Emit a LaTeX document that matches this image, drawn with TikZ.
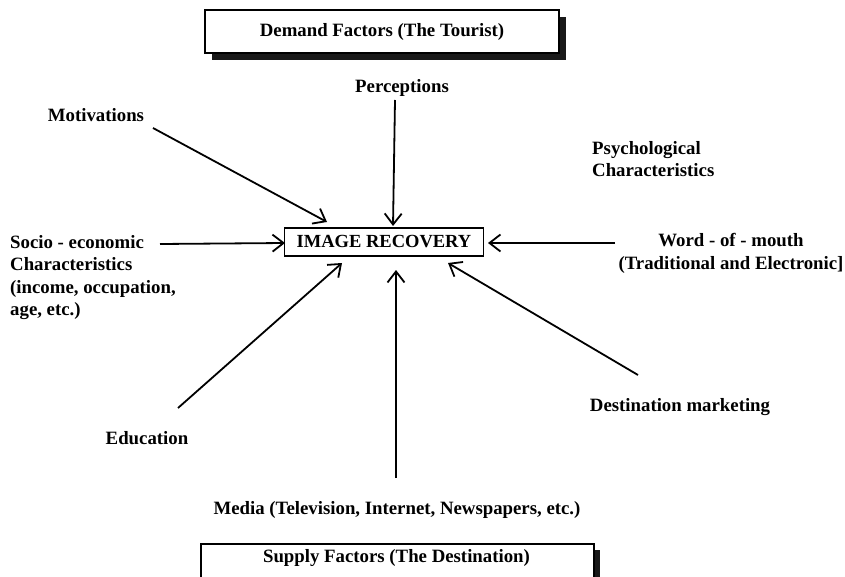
\documentclass[tikz,border=0pt]{standalone}
\usepackage{fontspec}
\setmainfont{Liberation Serif}
\usetikzlibrary{arrows.meta}
\begin{document}
\begin{tikzpicture}[x=1pt,y=-1pt,
  lbl/.style={font=\fontsize{18.8}{22.5}\selectfont\bfseries, inner sep=0pt},
  lnk/.style={line width=1.8pt, -{Straight Barb[length=11pt,width=17pt,line width=1.8pt]}},
  frame/.style={draw, line width=1.8pt, fill=white}]
\useasboundingbox (0,0) rectangle (845,577);

% header boxes with drop shadows
\fill[black!90] (212,17) rectangle (566,60);
\node[frame, minimum width=354pt, minimum height=43pt, inner sep=0pt] (demand) at (382,31.5) {};
\node[lbl] at (demand) {Demand Factors (The Tourist)};

\fill[black!90] (207,550) rectangle (600,600);
\node[frame, minimum width=393pt, minimum height=50pt, inner sep=0pt, anchor=north west] (supply) at (200,543) {};
\node[lbl] at (396.5,558) {Supply Factors (The Destination)};

% central box
\node[frame, lbl, font=\fontsize{18.5}{22}\selectfont\bfseries, minimum width=199pt, minimum height=28pt] (rec) at (384,242) {IMAGE RECOVERY};

% factor labels
\node[lbl] (perc) at (402,88) {Perceptions};
\node[lbl] (moti) at (96,115) {Motivations};
\node[lbl, align=left, anchor=west] (psych) at (592,159) {Psychological\\Characteristics};
\node[lbl, align=left, anchor=west] (socio) at (10,277.5) {Socio - economic\\Characteristics\\(income, occupation,\\age, etc.)};
\node[lbl, align=center] (wom) at (731,253.5) {Word - of - mouth\\(Traditional and Electronic]};
\node[lbl] (edu) at (147,438) {Education};
\node[lbl] (dest) at (680,407) {Destination marketing};
\node[lbl] (media) at (397,510) {Media (Television, Internet, Newspapers, etc.)};

% arrow start points
\coordinate (sPerc) at (395,100);
\coordinate (sMoti) at (153,128);
\coordinate (sSocio) at (160,244);
\coordinate (sWom) at (615,243);
\coordinate (sEdu) at (178,408);
\coordinate (sDest) at (638,375);
\coordinate (sMedia) at (396,478);

% arrow end points on the central box
\coordinate (ePerc) at (393,226);
\coordinate (eMoti) at (327,222);
\coordinate (eSocio) at (285,243);
\coordinate (eWom) at (488,243);
\coordinate (eEdu) at (342,263);
\coordinate (eDest) at (448,263);
\coordinate (eMedia) at (396,270);

\draw[lnk] (sPerc) -- (ePerc);
\draw[lnk] (sMoti) -- (eMoti);
\draw[lnk] (sSocio) -- (eSocio);
\draw[lnk] (sWom) -- (eWom);
\draw[lnk] (sEdu) -- (eEdu);
\draw[lnk] (sDest) -- (eDest);
\draw[lnk] (sMedia) -- (eMedia);
\end{tikzpicture}
\end{document}
